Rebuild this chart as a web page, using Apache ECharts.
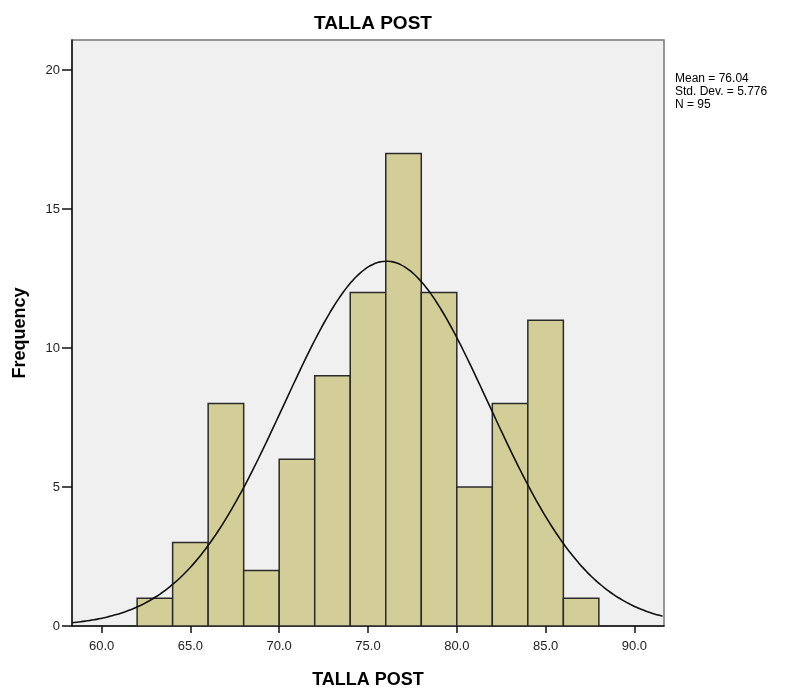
<!DOCTYPE html>
<html>
<head>
<meta charset="utf-8">
<script src="https://cdn.jsdelivr.net/npm/echarts@6/dist/echarts.min.js"></script>
<style>html,body{margin:0;padding:0;background:#fff;}#c{width:795px;height:688px;}</style>
</head>
<body>
<div id="c"></div>
<script>
// Data
const binStarts = [62, 64, 66, 68, 70, 72, 74, 76, 78, 80, 82, 84, 86];
const binWidth = 2;
const frequencies = [1, 3, 8, 2, 6, 9, 12, 17, 12, 5, 8, 11, 1];
const xTicks = [60, 65, 70, 75, 80, 85, 90];
const yTicks = [0, 5, 10, 15, 20];
const statMean = 76.04;
const statSD = 5.776;
const statN = 95;

const xMin = 58.333, xMax = 91.667;
const yMax = 21.08;

const barData = binStarts.map((s, i) => [s, s + binWidth, frequencies[i]]);

// Fitted normal curve from the reported statistics
const curve = [];
for (let x = xMin; x <= xMax + 1e-9; x += 0.25) {
  const z = (x - statMean) / statSD;
  const y = statN * binWidth * Math.exp(-0.5 * z * z) / (statSD * Math.sqrt(2 * Math.PI));
  curve.push([x, y]);
}

const chart = echarts.init(document.getElementById('c'), null, {renderer: 'canvas'});
const font = '"Liberation Sans", Arial, sans-serif';
chart.setOption({
  animation: false,
  textStyle: {fontFamily: font},
  title: [
    {text: 'TALLA POST', left: 368, top: 9, textAlign: 'center',
     textStyle: {fontFamily: font, fontSize: 19, fontWeight: 'bold', color: '#000'}},
    {text: 'Mean = ' + statMean.toFixed(2) + '\nStd. Dev. = ' + statSD.toFixed(3) + '\nN = ' + statN,
     left: 675, top: 72, padding: 0,
     textStyle: {fontFamily: font, fontSize: 12, fontWeight: 'normal', color: '#000', lineHeight: 13}}
  ],
  grid: {left: 72, right: 131, top: 40, bottom: 62, show: true, outerBoundsMode: 'none', containLabel: false,
         backgroundColor: '#F0F0F0', borderColor: '#777', borderWidth: 1.5},
  xAxis: {
    type: 'value', min: xMin, max: xMax,
    name: 'TALLA POST', nameLocation: 'middle', nameGap: 45,
    nameTextStyle: {fontFamily: font, fontSize: 18, fontWeight: 'bold', color: '#000'},
    axisLine: {show: true, onZero: false, lineStyle: {color: '#111', width: 1.5}},
    axisTick: {show: true, length: 7, customValues: xTicks, lineStyle: {color: '#111', width: 1.5}},
    axisLabel: {customValues: xTicks, formatter: v => Number(v).toFixed(1),
                fontFamily: font, fontSize: 13, color: '#222', margin: 14},
    splitLine: {show: false}
  },
  yAxis: {
    type: 'value', min: 0, max: yMax,
    name: 'Frequency', nameLocation: 'middle', nameGap: 43,
    nameTextStyle: {fontFamily: font, fontSize: 18, fontWeight: 'bold', color: '#000'},
    axisLine: {show: true, lineStyle: {color: '#111', width: 1.5}},
    axisTick: {show: true, length: 10, customValues: yTicks, lineStyle: {color: '#111', width: 1.5}},
    axisLabel: {customValues: yTicks, fontFamily: font, fontSize: 13, color: '#222', margin: 12},
    splitLine: {show: false}
  },
  series: [
    {
      type: 'custom',
      clip: true,
      data: barData,
      encode: {x: [0, 1], y: 2},
      renderItem: function (params, api) {
        const p0 = api.coord([api.value(0), api.value(2)]);
        const p1 = api.coord([api.value(1), 0]);
        return {
          type: 'rect',
          shape: {x: p0[0], y: p0[1], width: p1[0] - p0[0], height: p1[1] - p0[1]},
          style: {fill: '#D3CE97', stroke: '#2b2b2b', lineWidth: 1.5}
        };
      },
      z: 2
    },
    {
      type: 'line',
      data: curve,
      showSymbol: false,
      smooth: true,
      clip: true,
      lineStyle: {color: '#111', width: 1.6},
      z: 3
    }
  ]
});
</script>
</body>
</html>
